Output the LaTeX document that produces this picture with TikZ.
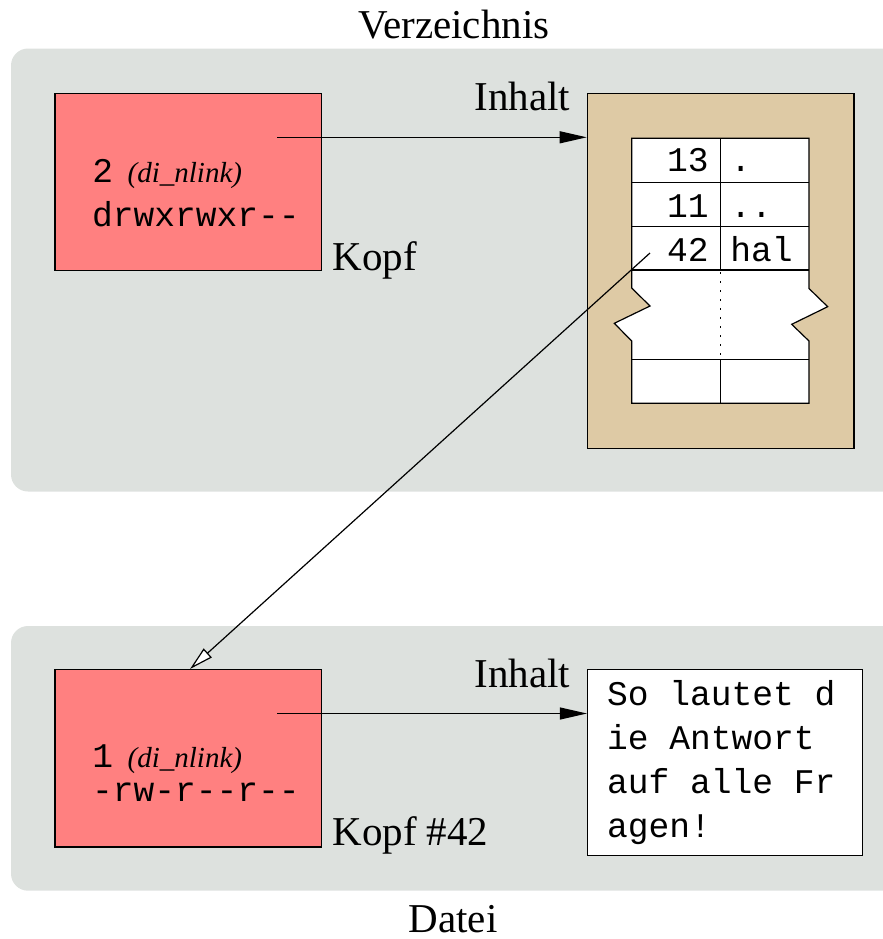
\documentclass[tikz,border=0pt]{standalone}
\usepackage{fontspec}
\setmainfont{Liberation Serif}
\setmonofont{Liberation Mono}
\usetikzlibrary{arrows.meta}
\definecolor{panelgray}{RGB}{221,225,222}
\definecolor{headred}{RGB}{255,128,128}
\definecolor{beige}{RGB}{222,202,165}
\tikzset{
  panel/.style={fill=panelgray, draw=none, rounded corners=8.5pt},
  headbox/.style={draw=black, line width=0.6pt, fill=headred, minimum width=133.3pt, minimum height=88.7pt, inner sep=0pt},
  contentbox/.style={draw=black, line width=0.6pt, inner sep=0pt},
  lbl/.style={inner sep=0pt, font=\fontsize{20.5}{24}\selectfont},
  mono/.style={inner sep=0pt, font=\fontsize{17.3}{22}\selectfont\ttfamily},
  ital/.style={inner sep=0pt, font=\fontsize{14.5}{17}\selectfont\itshape},
  fillarrow/.style={line width=0.6pt, -{Triangle[length=13.5pt,width=6pt]}},
  openarrow/.style={line width=0.6pt, -{Triangle[open,length=12pt,width=6pt,fill=white]}},
  tline/.style={line width=0.6pt},
}
\begin{document}
\begin{tikzpicture}[x=0.5pt,y=-0.5pt]
\useasboundingbox (0,0) rectangle (883,939);
% panels
\fill[panel] (11,48.5) rectangle (920,491.5);
\fill[panel] (11,626) rectangle (920,890.7);
% titles
\node[lbl, anchor=base] (verz) at (453.8,38.3) {Verzeichnis};
\node[lbl, anchor=base] (datei) at (453,932) {Datei};
% top head
\node[headbox] (kopf) at (188.3,182) {};
\node[mono, anchor=base west] (n2) at (92,182) {2};
\node[ital, anchor=base west] (dl1) at (127.3,182) {(di\_nlink)};
\node[mono, anchor=base west] (perm1) at (91.7,226.7) {drwxrwxr--};
\node[lbl, anchor=base west] (kopflbl) at (332,270.7) {Kopf};
% directory content
\node[contentbox, fill=beige, minimum width=133.35pt, minimum height=177.5pt] (dir) at (720.65,270.8) {};
\node[lbl, anchor=base west] (inh1) at (474,110) {Inhalt};
\coordinate (k1) at (277,137.3);
\draw[fillarrow] (k1) -- (k1 -| dir.west);
% table
\draw[tline, fill=white] (631.7,138.3) -- (809,138.3) -- (809,288.5) -- (827.7,306.7) -- (791.7,324.3) -- (809,341) -- (809,403.3) -- (631.7,403.3) -- (631.7,341) -- (614.3,323.3) -- (650,306) -- (631.7,288) -- cycle;
\draw[tline] (631.7,182.3) -- (809,182.3)
             (631.7,226.7) -- (809,226.7)
             (631.7,270) -- (809,270)
             (631.7,359.3) -- (809,359.3)
             (720.7,138.3) -- (720.7,270)
             (720.7,359.3) -- (720.7,403.3);
\draw[line width=0.6pt, dash pattern=on 1pt off 3.5pt] (720.7,272) -- (720.7,359.3);
\node[mono, anchor=base east] (i13) at (709,171.7) {13};
\node[mono, anchor=base west] (e1) at (730,171.7) {.};
\node[mono, anchor=base east] (i11) at (709,217.7) {11};
\node[mono, anchor=base west] (e2) at (730,217.7) {..};
\node[mono, anchor=base east] (i42) at (709,261.7) {42};
\node[mono, anchor=base west] (e3) at (730,261.7) {hal};
% bottom head
\node[headbox] (kopf42) at (188.3,758.3) {};
\node[mono, anchor=base west] (n1) at (92,767.3) {1};
\node[ital, anchor=base west] (dl2) at (127.3,767.3) {(di\_nlink)};
\node[mono, anchor=base west] (perm2) at (91.7,801.7) {-rw-r--r--};
\node[lbl, anchor=base west] (kopf42lbl) at (332,845) {Kopf \#42};
% link from entry 42
\coordinate (c42) at (650,253);
\draw[openarrow] (c42) -- (kopf42.north -| 190,0);
% file content
\node[contentbox, fill=white, minimum width=137.5pt, minimum height=93pt] (file) at (725,762.8) {};
\node[lbl, anchor=base west] (inh2) at (474,687) {Inhalt};
\coordinate (k2) at (277,713.5);
\draw[fillarrow] (k2) -- (k2 -| file.west);
\node[mono, anchor=base west] (f1) at (606.7,705) {So lautet d};
\node[mono, anchor=base west] (f2) at (606.7,749) {ie Antwort};
\node[mono, anchor=base west] (f3) at (606.7,793) {auf alle Fr};
\node[mono, anchor=base west] (f4) at (606.7,837) {agen!};
\end{tikzpicture}
\end{document}
